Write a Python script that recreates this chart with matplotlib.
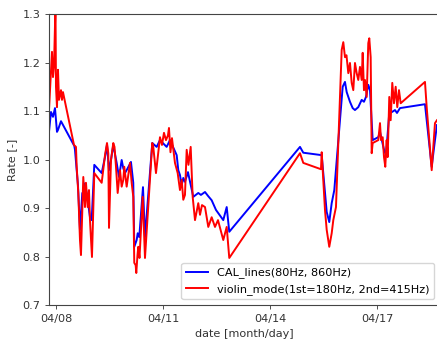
import numpy as np
import matplotlib
matplotlib.use('Agg')
import matplotlib.pyplot as plt

# days since 04/08 00:00, rate
cal_days = [-0.196, -0.14, -0.084, -0.028, 0.028, 0.056, 0.14, 0.513, 0.532, 0.58,
            0.616, 0.672, 0.737, 0.784, 0.812, 0.877, 0.952, 1.0, 1.073, 1.28,
            1.373, 1.429, 1.485, 1.541, 1.605, 1.7, 1.765, 1.84, 1.885, 1.933,
            2.008, 2.1, 2.165, 2.193, 2.26, 2.289, 2.333, 2.437, 2.493, 2.697,
            2.82, 2.913, 3.1, 3.193, 3.381, 3.426, 3.473, 3.521, 3.566, 3.613,
            3.697, 3.846, 3.986, 4.06, 4.174, 4.258, 4.361, 4.482, 4.686, 4.782,
            4.854, 6.835, 6.927, 7.443, 7.487, 7.583, 7.655, 7.723, 7.796, 8.031,
            8.095, 8.143, 8.235, 8.311, 8.375, 8.468, 8.563, 8.627, 8.683, 8.748,
            8.796, 8.871, 9.028, 9.076, 9.188, 9.244, 9.336, 9.412, 9.496, 9.552,
            9.636, 10.336, 10.384, 10.524, 10.616, 10.672]
cal_rate = [1.057, 1.098, 1.088, 1.106, 1.057, 1.061, 1.079, 1.028, 1.020, 0.978,
            0.947, 0.855, 0.931, 0.917, 0.951, 0.923, 0.881, 0.875, 0.989, 0.972,
            1.005, 1.030, 0.978, 0.999, 1.030, 0.993, 0.964, 0.999, 0.982, 0.972,
            0.982, 0.995, 0.952, 0.820, 0.834, 0.848, 0.840, 0.943, 0.840, 1.034,
            1.026, 1.040, 1.026, 1.040, 1.009, 0.978, 0.968, 0.947, 0.962, 0.954,
            0.974, 0.923, 0.931, 0.927, 0.933, 0.925, 0.916, 0.896, 0.875, 0.902,
            0.851, 1.026, 1.014, 1.009, 0.972, 0.892, 0.871, 0.910, 0.937, 1.150,
            1.160, 1.139, 1.119, 1.106, 1.102, 1.108, 1.123, 1.119, 1.129, 1.154,
            1.143, 1.040, 1.046, 1.057, 1.020, 1.009, 1.096, 1.098, 1.102, 1.096,
            1.106, 1.114, 1.081, 0.985, 1.040, 1.071]

violin_days = [-0.196, -0.14, -0.112, -0.084, -0.056, -0.014, 0.0, 0.028, 0.056, 0.084,
               0.112, 0.14, 0.168, 0.196, 0.504, 0.56, 0.58, 0.625, 0.672, 0.7,
               0.765, 0.812, 0.84, 0.888, 0.924, 0.952, 1.008, 1.073, 1.28, 1.373,
               1.429, 1.465, 1.485, 1.541, 1.605, 1.639, 1.681, 1.728, 1.793, 1.84,
               1.885, 1.913, 1.98, 2.073, 2.12, 2.165, 2.193, 2.232, 2.249, 2.283,
               2.305, 2.339, 2.429, 2.493, 2.697, 2.725, 2.801, 2.857, 2.913, 2.969,
               3.025, 3.081, 3.137, 3.165, 3.207, 3.249, 3.333, 3.409, 3.473, 3.521,
               3.566, 3.613, 3.661, 3.711, 3.773, 3.829, 3.894, 3.986, 4.034, 4.09,
               4.174, 4.266, 4.361, 4.454, 4.538, 4.686, 4.782, 4.854, 6.835, 6.927,
               7.423, 7.443, 7.471, 7.535, 7.583, 7.655, 7.723, 7.768, 7.843, 8.003,
               8.048, 8.095, 8.137, 8.188, 8.235, 8.283, 8.328, 8.375, 8.423, 8.468,
               8.515, 8.563, 8.591, 8.627, 8.655, 8.703, 8.748, 8.776, 8.815, 8.843,
               8.871, 9.028, 9.076, 9.104, 9.151, 9.188, 9.224, 9.263, 9.291, 9.336,
               9.375, 9.42, 9.468, 9.515, 9.56, 9.608, 9.655, 10.336, 10.384, 10.524,
               10.616, 10.672]
violin_rate = [1.102, 1.185, 1.222, 1.170, 1.191, 1.319, 1.150, 1.108, 1.185, 1.123,
               1.133, 1.143, 1.123, 1.139, 1.030, 1.026, 0.985, 0.931, 0.834, 0.803,
               0.964, 0.902, 0.952, 0.902, 0.937, 0.875, 0.799, 0.972, 0.952, 1.009,
               1.034, 1.013, 0.859, 0.999, 1.034, 1.026, 0.985, 0.931, 0.978, 0.944,
               0.958, 0.985, 0.944, 0.993, 0.952, 0.923, 0.787, 0.782, 0.766, 0.803,
               0.820, 0.797, 0.923, 0.797, 1.034, 1.026, 0.972, 1.009, 1.046, 1.030,
               1.055, 1.040, 1.050, 1.065, 1.015, 1.044, 0.993, 0.972, 0.937, 0.958,
               0.917, 0.927, 1.020, 0.989, 1.026, 0.923, 0.875, 0.910, 0.886, 0.906,
               0.902, 0.861, 0.881, 0.861, 0.875, 0.834, 0.861, 0.797, 1.013, 0.993,
               0.980, 1.015, 0.978, 0.896, 0.855, 0.820, 0.848, 0.875, 0.902, 1.226,
               1.242, 1.211, 1.215, 1.178, 1.199, 1.158, 1.143, 1.199, 1.178, 1.164,
               1.191, 1.164, 1.220, 1.143, 1.164, 1.129, 1.240, 1.250, 1.211, 1.013,
               1.034, 1.040, 1.075, 1.040, 1.046, 1.005, 0.985, 1.040, 1.005, 1.129,
               1.081, 1.158, 1.116, 1.150, 1.108, 1.143, 1.116, 1.160, 1.108, 0.978,
               1.075, 1.081]

tick_days = [0, 3, 6, 9]
tick_labels = ['04/08', '04/11', '04/14', '04/17']

fs = 8.1
fig = plt.figure(figsize=(4.37, 3.40), dpi=100)
ax = fig.add_axes([0.1121, 0.1029, 0.8947, 0.8559])

ax.plot(cal_days, cal_rate, color='blue', lw=1.4, label='CAL_lines(80Hz, 860Hz)')
ax.plot(violin_days, violin_rate, color='red', lw=1.4,
        label='violin_mode(1st=180Hz, 2nd=415Hz)')

ax.set_xlim(-0.196, 10.756)
ax.set_ylim(0.7, 1.3)
ax.set_yticks(np.arange(0.7, 1.31, 0.1))
ax.set_xticks(tick_days)
ax.set_xticklabels(tick_labels)
ax.tick_params(labelsize=fs, length=2.8, width=0.6, colors='#333333')
for s in ax.spines.values():
    s.set_linewidth(0.8)
    s.set_color('#444444')

ax.set_xlabel('date [month/day]', fontsize=fs, color='#333333')
ax.set_ylabel('Rate [-]', fontsize=fs, color='#333333')
ax.legend(loc='lower right', fontsize=fs, borderaxespad=0.5, handlelength=2.0)

fig.savefig('out.png', dpi=100)
